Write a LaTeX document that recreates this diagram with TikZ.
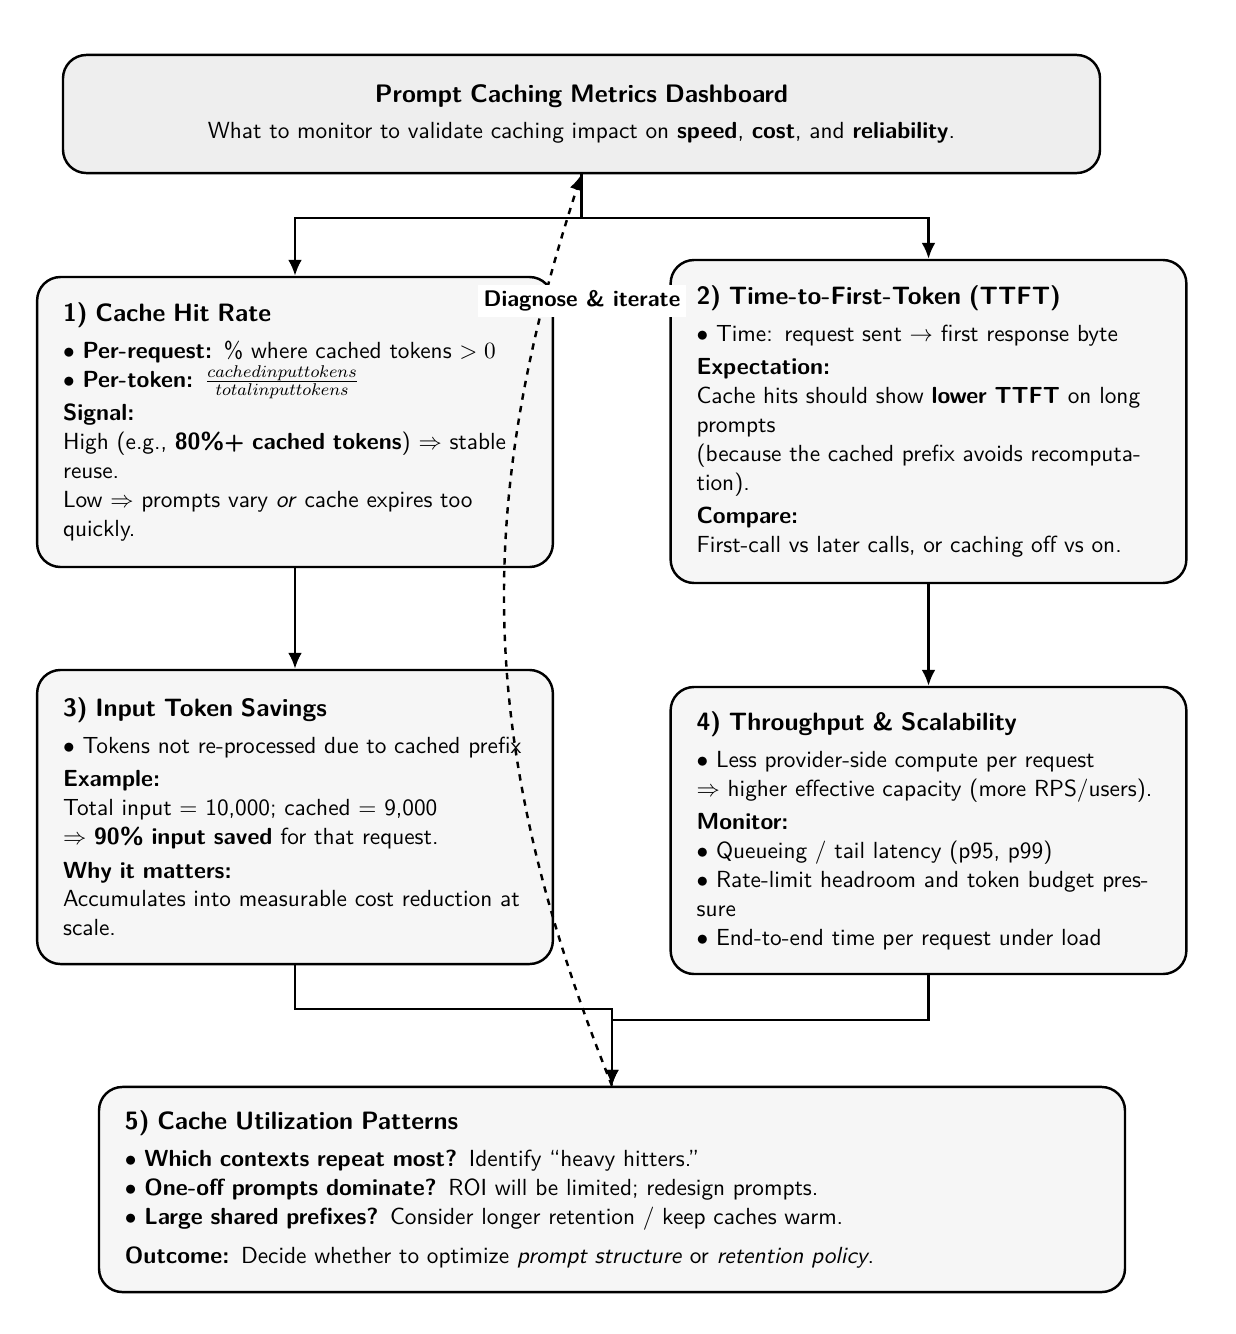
\documentclass[tikz,border=0pt]{standalone}
\usetikzlibrary{arrows.meta}
\definecolor{topfill}{HTML}{EEEEEE}
\definecolor{boxfill}{HTML}{F6F6F6}
\newcommand\ttl[1]{{\fontsize{11.8pt}{14.5pt}\selectfont\bfseries #1\par}\vspace{3.8pt}}
\newcommand\hd[1]{\vspace{2pt}\textbf{#1}\par}
\begin{document}
\begin{tikzpicture}[x=0.47pt,y=-0.47pt,
  font=\sffamily\fontsize{10.95pt}{13.6pt}\selectfont,
  card/.style={draw, line width=1.15pt, rounded corners=11pt, fill=boxfill,
    text width=218pt, inner xsep=12.2pt, inner ysep=0pt, align=left,
    execute at begin node={\setlength{\parindent}{0pt}}},
  arr/.style={line width=1.15pt, -{Latex[length=7.5pt,width=6.5pt]}}]
\useasboundingbox (0,0) rectangle (1236,1334);

\node[card, fill=topfill, text width=463pt, minimum height=55.5pt, align=center] (top) at (581.5,114) {%
{\fontsize{11.9pt}{14.5pt}\selectfont\bfseries Prompt Caching Metrics Dashboard\par}\vspace{3.3pt}
What to monitor to validate caching impact on \textbf{speed}, \textbf{cost}, and \textbf{reliability}.};

\node[card, minimum height=136.3pt] (b1) at (295,422) {%
\ttl{1) Cache Hit Rate}
$\bullet$ \textbf{Per-request:} \% where cached tokens $>0$\par
$\bullet$ \textbf{Per-token:} $\frac{cachedinputtokens}{totalinputtokens}$\par
\hd{Signal:}
High (e.g., \textbf{80\%+ cached tokens}) $\Rightarrow$ stable reuse.\par
Low $\Rightarrow$ prompts vary \emph{or} cache expires too quickly.};

\node[card, minimum height=151.8pt] (b2) at (928.5,421.5) {%
\ttl{2) Time-to-First-Token (TTFT)}
$\bullet$ Time: request sent $\rightarrow$ first response byte\par
\hd{Expectation:}
Cache hits should show \textbf{lower TTFT} on long prompts\\
(because the cached prefix avoids recomputation).\par
\hd{Compare:}
First-call vs later calls, or caching off vs on.};

\node[card, minimum height=138.2pt] (b3) at (295,817) {%
\ttl{3) Input Token Savings}
$\bullet$ Tokens not re-processed due to cached prefix\par
\hd{Example:}
Total input $=$ 10,000; cached $=$ 9,000\par
$\Rightarrow$ \textbf{90\% input saved} for that request.\par
\hd{Why it matters:}
Accumulates into measurable cost reduction at scale.};

\node[card, minimum height=134.9pt] (b4) at (928.5,830.5) {%
\ttl{4) Throughput \& Scalability}
$\bullet$ Less provider-side compute per request\par
$\Rightarrow$ higher effective capacity (more RPS/users).\par
\hd{Monitor:}
$\bullet$ Queueing / tail latency (p95, p99)\par
$\bullet$ Rate-limit headroom and token budget pressure\par
$\bullet$ End-to-end time per request under load};

\node[card, text width=457.8pt, minimum height=96.4pt] (b5) at (612,1189.5) {%
\ttl{5) Cache Utilization Patterns}
$\bullet$ \textbf{Which contexts repeat most?} Identify ``heavy hitters.''\par
$\bullet$ \textbf{One-off prompts dominate?} ROI will be limited; redesign prompts.\par
$\bullet$ \textbf{Large shared prefixes?} Consider longer retention / keep caches warm.\par
\vspace{4.7pt}
\textbf{Outcome:} Decide whether to optimize \emph{prompt structure} or \emph{retention policy}.};

\draw[arr] (top.south) -- ++(0,44) -| (b1.north);
\draw[arr] (top.south) -- ++(0,44) -| (b2.north);
\draw[arr] (b1.south) -- (b3.north);
\draw[arr] (b2.south) -- (b4.north);
\draw[arr] (b3.south) -- ++(0,44) -| (b5.north);
\draw[arr] (b4.south) -- ++(0,45) -| (b5.north);

\draw[line width=1.15pt, dashed, -{Latex[length=7.5pt,width=6.5pt]}] (b5.north) to[bend left=20] (top.south);

\node[fill=white, font=\sffamily\bfseries\fontsize{10.6pt}{13pt}\selectfont, inner sep=2.5pt] (lbl) at (582,301) {Diagnose \& iterate};
\end{tikzpicture}
\end{document}
